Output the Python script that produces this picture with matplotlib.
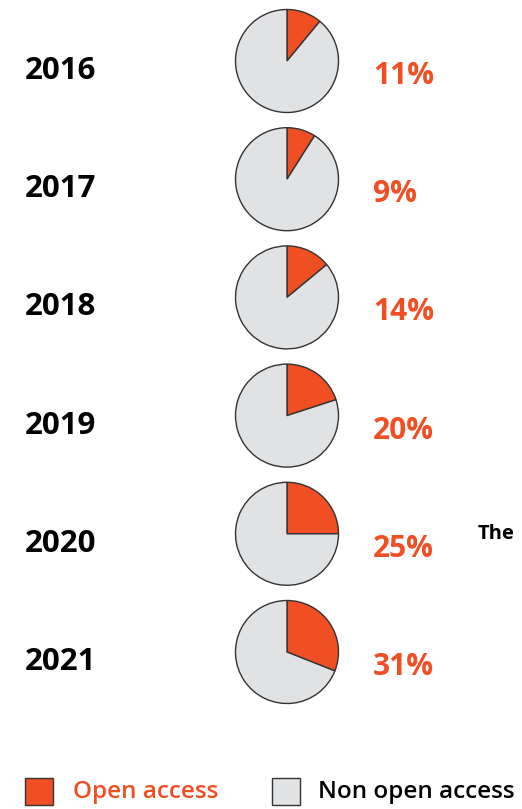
import matplotlib.pyplot as plt
from matplotlib.patches import Rectangle

years = ['2016', '2017', '2018', '2019', '2020', '2021']
open_access = [11, 9, 14, 20, 25, 31]  # percent of publications

orange = '#F04E23'
grey = '#E1E2E4'

plt.rcParams['font.family'] = ['Open Sans', 'DejaVu Sans']

fig = plt.figure(figsize=(5.22, 8.09), dpi=100)
ax = fig.add_axes([0, 0, 1, 1])
ax.set_xlim(0, 522)
ax.set_ylim(809, 0)
ax.set_aspect('equal')
ax.axis('off')

# one pie per year, stacked vertically (y axis is flipped, so angles are mirrored)
y0, step = 61, 118.2
for i, (yr, pct) in enumerate(zip(years, open_access)):
    cy = y0 + i * step
    ax.pie([pct, 100 - pct], colors=[orange, grey], startangle=-90,
           counterclock=True, center=(287, cy), radius=51.5,
           wedgeprops={'edgecolor': '#333333', 'linewidth': 1.0})
    ax.text(25, cy + 10, yr, fontsize=22.5, fontweight='bold', color='black',
            va='center', ha='left')
    ax.text(373, cy + 15, f'{pct}%', fontsize=21.5, fontweight='bold',
            color=orange, va='center', ha='left')

ax.set_xlim(0, 522)
ax.set_ylim(809, 0)

ax.text(478, 534, 'The', fontsize=14.5, fontweight='bold', va='center', ha='left')

# legend
ax.add_patch(Rectangle((25, 778), 28, 27, facecolor=orange, edgecolor='#333333', lw=1))
ax.text(73, 792, 'Open access', fontsize=17.5, fontweight='semibold', color=orange,
        va='center', ha='left')
ax.add_patch(Rectangle((272, 778), 28, 27, facecolor=grey, edgecolor='#333333', lw=1))
ax.text(318, 792, 'Non open access', fontsize=17.5, fontweight='semibold', color='black',
        va='center', ha='left')

fig.savefig('out.png', dpi=100)
